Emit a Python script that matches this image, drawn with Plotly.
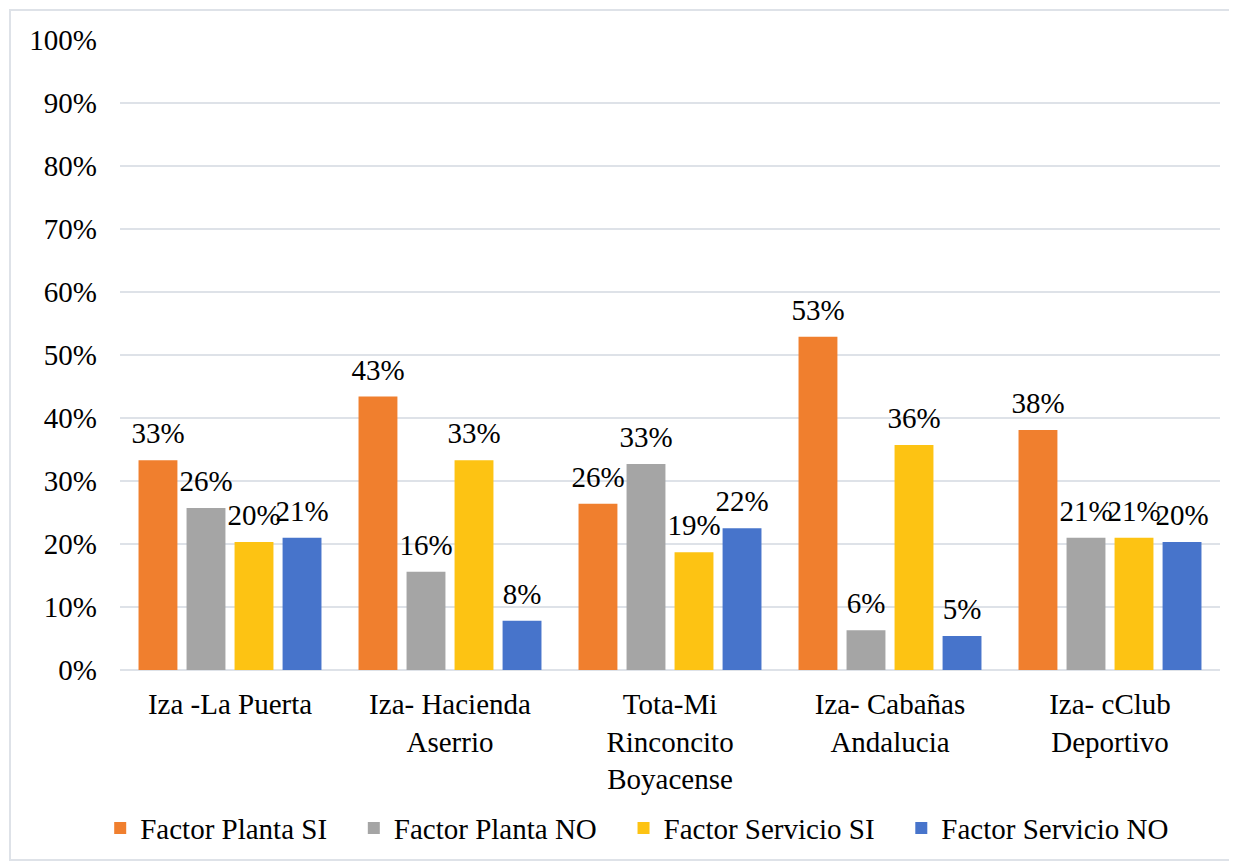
"""
Grouped bar chart: factor planta / factor servicio per establishment.
"""

import plotly.graph_objects as go

CATEGORIES = [
    "Iza -La Puerta",
    "Iza- Hacienda<br>Aserrio",
    "Tota-Mi<br>Rinconcito<br>Boyacense",
    "Iza- Cabañas<br>Andalucia",
    "Iza- cClub<br>Deportivo",
]

PLANTA_SI = [0.333, 0.434, 0.264, 0.529, 0.381]
PLANTA_NO = [0.257, 0.156, 0.327, 0.063, 0.210]
SERVICIO_SI = [0.203, 0.333, 0.187, 0.357, 0.210]
SERVICIO_NO = [0.210, 0.078, 0.225, 0.054, 0.203]

SERIES = [
    ("Factor Planta SI", PLANTA_SI, "#F07F2E"),
    ("Factor Planta NO", PLANTA_NO, "#A5A5A5"),
    ("Factor Servicio SI", SERVICIO_SI, "#FDC313"),
    ("Factor Servicio NO", SERVICIO_NO, "#4774CB"),
]

# "Times New Roman" resolves to Liberation Serif in the sandbox
FONT = "Times New Roman"
FONT_SIZE = 29
GRID = "#DEE2E8"
LEGEND_PAD = "\u00a0" * 3  # widen the gap between legend entries

fig = go.Figure()

for name, values, color in SERIES:
    fig.add_trace(
        go.Bar(
            x=CATEGORIES,
            y=values,
            name=name + LEGEND_PAD,
            marker={"color": color, "line": {"width": 0}},
            hovertemplate=name + ": %{y:.0%}<extra></extra>",
        )
    )

# value labels as grouped scatter text, so they can sit a little higher above the bars
for name, values, color in SERIES:
    fig.add_trace(
        go.Scatter(
            x=CATEGORIES,
            y=values,
            mode="markers+text",
            text=[f"{v:.0%}" for v in values],
            textposition="top center",
            textfont={"size": FONT_SIZE, "color": "black", "family": FONT},
            marker={"size": 14, "opacity": 0},
            cliponaxis=False,
            showlegend=False,
            hoverinfo="skip",
        )
    )

# page body has an 8px margin, so the figure is 8px smaller than the window
fig.update_layout(
    width=1229,
    height=853,
    barmode="group",
    bargap=0.127,
    bargroupgap=0.19,
    scattermode="group",
    scattergap=0.127,
    plot_bgcolor="white",
    paper_bgcolor="white",
    font={"family": FONT, "size": FONT_SIZE, "color": "black"},
    margin={"l": 112, "r": 17, "t": 32, "b": 191, "autoexpand": False},
    showlegend=True,
    legend={
        "orientation": "h",
        "x": -0.018,
        "xanchor": "left",
        "y": -0.251,
        "yanchor": "middle",
        "font": {"size": FONT_SIZE, "family": FONT},
        "bgcolor": "rgba(0,0,0,0)",
    },
    xaxis={
        "showgrid": False,
        "showline": False,
        "zeroline": False,
        "ticks": "",
        "ticklabelstandoff": 14,
        "tickfont": {"size": FONT_SIZE, "family": FONT},
    },
    yaxis={
        "range": [0, 1],
        "dtick": 0.1,
        "tickformat": ".0%",
        "showgrid": True,
        "gridcolor": GRID,
        "gridwidth": 2,
        "zeroline": True,
        "zerolinecolor": GRID,
        "zerolinewidth": 2,
        "showline": False,
        "ticks": "",
        "ticklabelstandoff": 22,
        "tickfont": {"size": FONT_SIZE, "family": FONT},
    },
    shapes=[
        {
            "type": "rect",
            "xref": "paper",
            "yref": "paper",
            "x0": -0.1,
            "x1": 1.0145,
            "y0": -0.3016,
            "y1": 1.0476,
            "line": {"color": GRID, "width": 2},
            "layer": "below",
        }
    ],
)

fig.write_html("out.html")
